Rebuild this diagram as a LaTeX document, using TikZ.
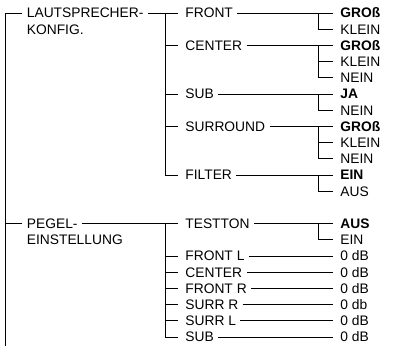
\documentclass[tikz,border=0pt]{standalone}
\usepackage{fontspec}
\setmainfont{Liberation Sans}
\begin{document}
\begin{tikzpicture}[x=1pt,y=-1pt, line width=0.8pt,
  lbl/.style={anchor=west, inner ysep=0pt, text height=9.9pt, text depth=0pt, font=\fontsize{13.8}{16}\selectfont},
  l1/.style={lbl, inner xsep=4.5pt},
  l2/.style={lbl, inner xsep=7pt},
  sel/.style={l2, font=\fontsize{13.8}{16}\selectfont\bfseries}]
\useasboundingbox (0,0) rectangle (393,346);
% trunk columns
\coordinate (bot) at (5,346);
\coordinate (vm) at (165,0);
\coordinate (vr) at (318,0);
% level 1
\node[l1] (lk)  at (22,13)    {LAUTSPRECHER-};
\node[l1] (lk2) at (22,29.2)  {KONFIG.};
\node[l1] (pe)  at (22,223.6) {PEGEL-};
\node[l1] (pe2) at (22,239.8) {EINSTELLUNG};
% level 2
\node[l2] (front)    at (178,13)    {FRONT};
\node[l2] (center)   at (178,45.4)  {CENTER};
\node[l2] (sub)      at (178,94)    {SUB};
\node[l2] (surround) at (178,126.4) {SURROUND};
\node[l2] (filter)   at (178,175)   {FILTER};
\node[l2] (testton)  at (178,223.6) {TESTTON};
\node[l2] (frontl)   at (178,256)   {FRONT L};
\node[l2] (centerl)  at (178,272.2) {CENTER};
\node[l2] (frontr)   at (178,288.4) {FRONT R};
\node[l2] (surrr)    at (178,304.6) {SURR R};
\node[l2] (surrl)    at (178,320.8) {SURR L};
\node[l2] (subl)     at (178,337)   {SUB};
% level 3
\node[sel] (f1) at (333,13)    {GROß};
\node[l2]  (f2) at (333,29.2)  {KLEIN};
\node[sel] (c1) at (333,45.4)  {GROß};
\node[l2]  (c2) at (333,61.6)  {KLEIN};
\node[l2]  (c3) at (333,77.8)  {NEIN};
\node[sel] (s1) at (333,94)    {JA};
\node[l2]  (s2) at (333,110.2) {NEIN};
\node[sel] (u1) at (333,126.4) {GROß};
\node[l2]  (u2) at (333,142.6) {KLEIN};
\node[l2]  (u3) at (333,158.8) {NEIN};
\node[sel] (i1) at (333,175)   {EIN};
\node[l2]  (i2) at (333,191.2) {AUS};
\node[sel] (t1) at (333,223.6) {AUS};
\node[l2]  (t2) at (333,239.8) {EIN};
\node[l2]  (d1) at (333,256)   {0 dB};
\node[l2]  (d2) at (333,272.2) {0 dB};
\node[l2]  (d3) at (333,288.4) {0 dB};
\node[l2]  (d4) at (333,304.6) {0 db};
\node[l2]  (d5) at (333,320.8) {0 dB};
\node[l2]  (d6) at (333,337)   {0 dB};
% level 1 connectors
\draw (bot) |- (lk.west);
\draw (pe.west -| bot) -- (pe.west);
% level 2 connectors
\draw (lk.east) -- (front.west);
\draw (front.west -| vm) |- (filter.west);
\foreach \n in {center,sub,surround} \draw (\n.west -| vm) -- (\n.west);
\draw (pe.east) -- (testton.west);
\draw (testton.west -| vm) |- (subl.west);
\foreach \n in {frontl,centerl,frontr,surrr,surrl} \draw (\n.west -| vm) -- (\n.west);
% level 3 connectors
\draw ([xshift=-3pt]front.east) -- (f1.west);
\draw (f1.west -| vr) |- (f2.west);
\draw ([xshift=-3pt]center.east) -- (c1.west);
\draw (c1.west -| vr) |- (c3.west);
\draw (c2.west -| vr) -- (c2.west);
\draw ([xshift=-3pt]sub.east) -- (s1.west);
\draw (s1.west -| vr) |- (s2.west);
\draw ([xshift=-3pt]surround.east) -- (u1.west);
\draw (u1.west -| vr) |- (u3.west);
\draw (u2.west -| vr) -- (u2.west);
\draw ([xshift=-3pt]filter.east) -- (i1.west);
\draw (i1.west -| vr) |- (i2.west);
\draw ([xshift=-3pt]testton.east) -- (t1.west);
\draw (t1.west -| vr) |- (t2.west);
\draw ([xshift=-3pt]frontl.east) -- (d1.west);
\draw ([xshift=-3pt]centerl.east) -- (d2.west);
\draw ([xshift=-3pt]frontr.east) -- (d3.west);
\draw ([xshift=-3pt]surrr.east) -- (d4.west);
\draw ([xshift=-3pt]surrl.east) -- (d5.west);
\draw ([xshift=-3pt]subl.east) -- (d6.west);
\end{tikzpicture}
\end{document}
